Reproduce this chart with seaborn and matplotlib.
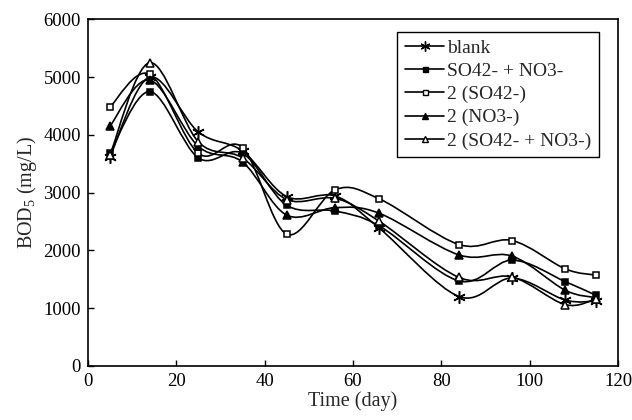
import numpy as np
import matplotlib
matplotlib.use('Agg')
import matplotlib.pyplot as plt
from matplotlib.path import Path
from matplotlib.patches import PathPatch
from matplotlib.lines import Line2D
import seaborn as sns

days = [5, 14, 25, 35, 45, 56, 66, 84, 96, 108, 115]
blank = [3620, 5000, 4050, 3720, 2930, 2940, 2380, 1200, 1520, 1140, 1120]
so4_no3 = [3680, 4750, 3600, 3680, 2780, 2680, 2420, 1470, 1830, 1460, 1220]
so4_x2 = [4480, 5050, 3680, 3780, 2280, 3050, 2890, 2100, 2170, 1680, 1570]
no3_x2 = [4150, 4950, 3800, 3530, 2610, 2740, 2640, 1920, 1900, 1310, 1180]
so4_no3_x2 = [3650, 5250, 3880, 3600, 2880, 2900, 2500, 1530, 1540, 1060, 1160]

labels = ['blank', 'SO42- + NO3-', '2 (SO42-)', '2 (NO3-)', '2 (SO42- + NO3-)']
series = [blank, so4_no3, so4_x2, no3_x2, so4_no3_x2]
# marker, face colour, size
styles = [((6, 2, 0), 'k', 9), ('s', 'k', 4.5), ('s', 'white', 4.5),
          ('^', 'k', 5.5), ('^', 'white', 5.5)]


def smooth_path(x, y):
    # excel-like smoothed line: bezier through the points
    pts = np.column_stack([x, y]).astype(float)
    n = len(pts)
    verts = [pts[0]]
    codes = [Path.MOVETO]
    for i in range(n - 1):
        p0 = pts[i - 1] if i > 0 else pts[i]
        p1 = pts[i]
        p2 = pts[i + 1]
        p3 = pts[i + 2] if i + 2 < n else pts[i + 1]
        verts += [p1 + (p2 - p0) / 6, p2 - (p3 - p1) / 6, p2]
        codes += [Path.CURVE4] * 3
    return Path(verts, codes)


sns.set_style("ticks")
plt.rcParams['font.family'] = ['Liberation Serif', 'DejaVu Serif']
plt.rcParams['mathtext.fontset'] = 'custom'
plt.rcParams['mathtext.rm'] = 'Liberation Serif'
plt.rcParams['mathtext.it'] = 'Liberation Serif:italic'

fig = plt.figure(figsize=(6.32, 4.2), dpi=100)
ax = fig.add_axes([0.139, 0.129, 0.839, 0.825])

handles = []
for vals, lab, (mk, fc, ms) in zip(series, labels, styles):
    ax.add_patch(PathPatch(smooth_path(days, vals), facecolor='none',
                           edgecolor='k', lw=1.2, zorder=2))
    sns.lineplot(x=days, y=vals, ax=ax, color='k', linestyle='none',
                 marker=mk, markersize=ms, markerfacecolor=fc,
                 markeredgecolor='k', markeredgewidth=1.1, zorder=3)
    handles.append(Line2D([], [], color='k', lw=1.2, marker=mk,
                          markersize=ms * 0.8, markerfacecolor=fc,
                          markeredgecolor='k'))

ax.set_xlim(0, 120)
ax.set_ylim(0, 6000)
ax.set_xticks(range(0, 121, 20))
ax.set_yticks(range(0, 6001, 1000))
ax.tick_params(direction='in', length=4, width=1, labelsize=13.5,
               colors='k', pad=5)
for s in ax.spines.values():
    s.set_color('k')
    s.set_linewidth(1.2)

ax.set_xlabel('Time (day)', fontsize=14.5, labelpad=1)
ax.set_ylabel('BOD$_5$ (mg/L)', fontsize=14.5, labelpad=3)

leg = ax.legend(handles, labels, loc='upper right',
                bbox_to_anchor=(0.964, 0.964), fontsize=14,
                frameon=True, fancybox=False, framealpha=1,
                edgecolor='k', handlelength=2.0, handletextpad=0.15,
                labelspacing=0.28, borderpad=0.4, borderaxespad=0)
leg.get_frame().set_linewidth(1.0)

fig.savefig('out.png', dpi=100)
